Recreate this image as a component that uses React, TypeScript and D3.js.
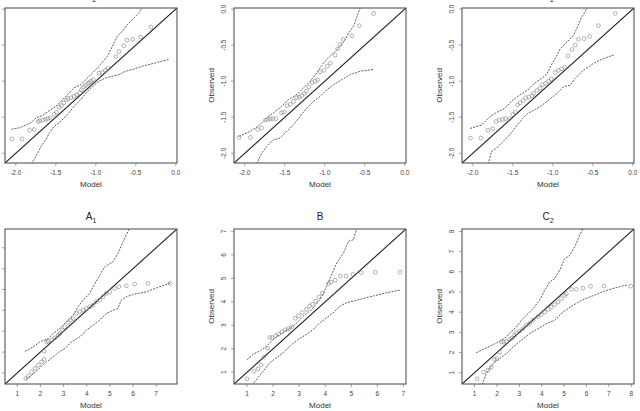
import * as d3 from "d3";

// Q-Q style panels: observed vs model quantiles with simulated envelopes.

const topTicks = [-2.0, -1.5, -1.0, -0.5, 0.0];
const bTicks7 = [1, 2, 3, 4, 5, 6, 7];
const bTicks8 = [1, 2, 3, 4, 5, 6, 7, 8];

// ---- top row, panel 1 ----
const a2Model = [-2.05, -1.92, -1.83, -1.77, -1.72, -1.7, -1.66, -1.63, -1.6, -1.57, -1.52, -1.49, -1.46, -1.43, -1.4, -1.37, -1.35, -1.31, -1.27, -1.24, -1.2, -1.18, -1.15, -1.13, -1.1, -1.08, -1.06, -1.03, -0.96, -0.92, -0.88, -0.85, -0.75, -0.71, -0.65, -0.61, -0.54, -0.44, -0.31];
const a2Observed = [-1.8, -1.8, -1.68, -1.67, -1.56, -1.55, -1.54, -1.53, -1.52, -1.51, -1.46, -1.43, -1.36, -1.34, -1.3, -1.26, -1.24, -1.23, -1.21, -1.19, -1.16, -1.12, -1.08, -1.06, -1.03, -1.02, -1.0, -0.98, -0.89, -0.88, -0.85, -0.82, -0.66, -0.59, -0.51, -0.43, -0.42, -0.39, -0.25];
const a2Upper: [number, number][] = [[-2.054, -1.668], [-1.95, -1.645], [-1.806, -1.576], [-1.744, -1.507], [-1.682, -1.484], [-1.496, -1.346], [-1.372, -1.207], [-1.269, -1.092], [-1.186, -1.046], [-1.083, -0.931], [-0.959, -0.793], [-0.855, -0.654], [-0.793, -0.516], [-0.731, -0.378], [-0.669, -0.309], [-0.607, -0.217], [-0.545, -0.147], [-0.463, -0.055], [-0.413, 0.03]];
const a2Lower: [number, number][] = [[-1.806, -2.15], [-1.723, -1.991], [-1.682, -1.899], [-1.62, -1.806], [-1.579, -1.714], [-1.517, -1.622], [-1.455, -1.576], [-1.372, -1.484], [-1.269, -1.346], [-1.186, -1.253], [-1.083, -1.115], [-0.959, -1.0], [-0.876, -0.954], [-0.793, -0.931], [-0.711, -0.908], [-0.628, -0.862], [-0.545, -0.839], [-0.421, -0.793], [-0.256, -0.747], [-0.091, -0.7]];

// ---- top row, panel 2 ----
const bTopModel = [-2.07, -1.93, -1.84, -1.79, -1.74, -1.71, -1.68, -1.65, -1.61, -1.54, -1.51, -1.47, -1.43, -1.39, -1.35, -1.32, -1.29, -1.26, -1.23, -1.2, -1.16, -1.12, -1.09, -1.06, -1.01, -0.97, -0.93, -0.87, -0.84, -0.81, -0.77, -0.66, -0.57, -0.39];
const bTopObserved = [-1.78, -1.78, -1.67, -1.65, -1.54, -1.53, -1.52, -1.52, -1.52, -1.44, -1.43, -1.34, -1.32, -1.28, -1.23, -1.22, -1.2, -1.17, -1.14, -1.08, -1.02, -1.0, -0.98, -0.87, -0.85, -0.79, -0.75, -0.64, -0.55, -0.49, -0.42, -0.37, -0.23, -0.06];
const bTopUpper: [number, number][] = [[-2.071, -1.767], [-1.937, -1.698], [-1.811, -1.605], [-1.706, -1.488], [-1.644, -1.442], [-1.539, -1.349], [-1.455, -1.256], [-1.35, -1.186], [-1.266, -1.093], [-1.182, -1.0], [-1.099, -0.884], [-1.015, -0.744], [-0.952, -0.674], [-0.889, -0.605], [-0.805, -0.512], [-0.742, -0.419], [-0.7, -0.326], [-0.637, -0.233], [-0.595, -0.093], [-0.553, 0.03]];
const bTopLower: [number, number][] = [[-1.853, -2.15], [-1.79, -2.0], [-1.727, -1.907], [-1.644, -1.814], [-1.56, -1.791], [-1.497, -1.721], [-1.392, -1.605], [-1.308, -1.488], [-1.224, -1.372], [-1.14, -1.279], [-1.057, -1.209], [-0.973, -1.116], [-0.889, -1.047], [-0.784, -0.977], [-0.679, -0.907], [-0.553, -0.86], [-0.386, -0.837]];

// ---- top row, panel 3 ----
const c1Model = [-2.03, -1.9, -1.81, -1.75, -1.71, -1.67, -1.63, -1.59, -1.54, -1.5, -1.47, -1.44, -1.41, -1.37, -1.34, -1.3, -1.26, -1.24, -1.2, -1.16, -1.13, -1.09, -1.05, -1.02, -0.97, -0.93, -0.89, -0.85, -0.81, -0.76, -0.72, -0.68, -0.61, -0.54, -0.43, -0.22];
const c1Observed = [-1.79, -1.79, -1.68, -1.66, -1.56, -1.54, -1.53, -1.52, -1.52, -1.46, -1.43, -1.33, -1.3, -1.27, -1.23, -1.22, -1.2, -1.17, -1.13, -1.1, -1.05, -1.03, -1.0, -0.97, -0.88, -0.85, -0.83, -0.81, -0.65, -0.56, -0.5, -0.42, -0.41, -0.38, -0.23, -0.06];
const c1Upper: [number, number][] = [[-2.033, -1.655], [-1.89, -1.609], [-1.787, -1.494], [-1.726, -1.448], [-1.603, -1.379], [-1.501, -1.264], [-1.419, -1.195], [-1.317, -1.126], [-1.235, -1.034], [-1.133, -0.956], [-1.072, -0.897], [-1.01, -0.759], [-0.949, -0.644], [-0.908, -0.552], [-0.826, -0.46], [-0.744, -0.368], [-0.683, -0.23], [-0.642, -0.115], [-0.601, -0.046], [-0.569, 0.03]];
const c1Lower: [number, number][] = [[-1.808, -2.15], [-1.767, -1.977], [-1.706, -1.931], [-1.624, -1.839], [-1.542, -1.747], [-1.46, -1.632], [-1.378, -1.517], [-1.317, -1.448], [-1.235, -1.402], [-1.133, -1.333], [-1.031, -1.241], [-0.949, -1.172], [-0.867, -1.08], [-0.785, -1.057], [-0.724, -0.966], [-0.622, -0.851], [-0.499, -0.759], [-0.376, -0.69], [-0.233, -0.634]];

// ---- bottom row, A1 ----
const a1Model = [1.37, 1.48, 1.62, 1.76, 1.91, 2.05, 2.16, 2.16, 2.26, 2.34, 2.48, 2.62, 2.77, 2.84, 2.95, 3.05, 3.2, 3.3, 3.41, 3.56, 3.7, 3.84, 3.99, 4.13, 4.27, 4.41, 4.56, 4.7, 4.84, 4.99, 5.21, 5.39, 5.71, 6.07, 6.64, 7.6];
const a1Observed = [0.73, 0.86, 1.05, 1.21, 1.37, 1.53, 1.65, 2.04, 2.49, 2.52, 2.57, 2.68, 2.81, 2.89, 3.05, 3.21, 3.42, 3.53, 3.61, 3.85, 3.93, 4.01, 4.09, 4.17, 4.25, 4.41, 4.49, 4.65, 4.81, 4.89, 5.05, 5.13, 5.18, 5.26, 5.29, 5.29];
const a1Upper: [number, number][] = [[1.33, 2.04], [1.689, 2.248], [1.976, 2.488], [2.335, 2.648], [2.55, 2.888], [2.837, 3.128], [3.124, 3.448], [3.411, 3.768], [3.627, 4.168], [3.842, 4.488], [4.129, 4.808], [4.273, 5.128], [4.56, 5.688], [4.775, 6.088], [5.134, 6.328], [5.349, 6.728], [5.564, 7.288], [5.708, 7.608], [5.852, 7.95]];
const a1Lower: [number, number][] = [[1.373, 0.696], [1.617, 0.888], [1.832, 1.08], [2.048, 1.336], [2.263, 1.528], [2.55, 1.768], [2.765, 1.976], [3.053, 2.168], [3.34, 2.488], [3.698, 2.728], [3.986, 3.048], [4.273, 3.288], [4.56, 3.528], [4.847, 3.848], [5.134, 4.008], [5.349, 4.088], [5.493, 4.488], [5.708, 4.648], [5.995, 4.76], [6.569, 4.888], [7.143, 5.128], [7.646, 5.32]];

// ---- bottom row, B ----
const bModel = [1.0, 1.26, 1.42, 1.54, 1.64, 1.79, 1.87, 1.96, 2.09, 2.21, 2.34, 2.47, 2.6, 2.72, 2.85, 2.98, 3.12, 3.28, 3.4, 3.51, 3.63, 3.76, 3.89, 4.13, 4.22, 4.38, 4.58, 4.8, 5.06, 5.38, 5.92, 6.87];
const bObserved = [0.72, 1.04, 1.14, 1.31, 1.64, 2.02, 2.48, 2.48, 2.55, 2.62, 2.72, 2.81, 2.86, 2.94, 3.3, 3.4, 3.54, 3.68, 3.82, 3.89, 4.03, 4.21, 4.37, 4.78, 4.84, 4.92, 5.09, 5.09, 5.17, 5.24, 5.26, 5.26];
const bUpper: [number, number][] = [[1.0, 1.537], [1.255, 1.776], [1.511, 1.918], [1.766, 2.129], [2.021, 2.412], [2.277, 2.624], [2.596, 2.835], [2.851, 3.047], [3.17, 3.4], [3.489, 3.683], [3.809, 4.106], [4.0, 4.53], [4.192, 5.024], [4.447, 5.659], [4.702, 6.082], [4.894, 6.577], [5.085, 6.647], [5.213, 7.15]];
const bLower: [number, number][] = [[1.191, 0.45], [1.383, 0.718], [1.638, 1.071], [1.894, 1.424], [2.149, 1.635], [2.404, 1.847], [2.66, 2.129], [2.979, 2.412], [3.298, 2.624], [3.553, 2.835], [3.809, 3.118], [4.064, 3.329], [4.319, 3.541], [4.575, 3.824], [4.83, 3.965], [5.341, 4.106], [5.851, 4.247], [6.362, 4.388], [6.872, 4.501]];

// ---- bottom row, C2 ----
const c2Model = [1.12, 1.4, 1.6, 1.75, 1.89, 2.0, 2.12, 2.19, 2.3, 2.42, 2.57, 2.68, 2.79, 2.86, 3.01, 3.16, 3.31, 3.46, 3.61, 3.83, 3.98, 4.13, 4.28, 4.43, 4.58, 4.73, 4.88, 5.03, 5.1, 5.32, 5.54, 5.84, 6.18, 6.78, 7.97];
const c2Observed = [0.7, 1.03, 1.12, 1.28, 1.66, 1.69, 2.02, 2.52, 2.52, 2.55, 2.65, 2.72, 2.85, 2.98, 3.05, 3.18, 3.35, 3.44, 3.6, 3.77, 3.88, 4.01, 4.14, 4.25, 4.37, 4.5, 4.67, 4.83, 4.91, 5.13, 5.13, 5.19, 5.28, 5.29, 5.29];
const c2Upper: [number, number][] = [[1.074, 1.991], [1.447, 2.189], [1.819, 2.387], [2.117, 2.552], [2.415, 2.767], [2.638, 3.047], [2.862, 3.262], [3.085, 3.592], [3.309, 3.84], [3.606, 4.17], [3.904, 4.583], [4.128, 5.078], [4.351, 5.491], [4.575, 5.656], [4.798, 6.069], [5.022, 6.646], [5.245, 6.811], [5.468, 7.224], [5.692, 7.802], [5.841, 8.15]];
const c2Lower: [number, number][] = [[1.343, 0.406], [1.521, 0.95], [1.819, 1.446], [2.117, 1.693], [2.415, 1.941], [2.713, 2.271], [3.085, 2.601], [3.457, 2.932], [3.83, 3.179], [4.202, 3.427], [4.575, 3.592], [4.947, 4.005], [5.394, 4.335], [5.766, 4.583], [6.138, 4.748], [6.51, 4.913], [6.883, 5.078], [7.255, 5.193], [7.851, 5.359]];

const titleMain = ["A", "B", "C", "A", "B", "C"];
const titleSub = ["2", "", "1", "1", "", "2"];

const boxLeft = [5, 234, 462];
const boxTop = [8, 229];
const boxW = 172;
const boxH = 155;

type Panel = {
  model: number[];
  observed: number[];
  upper: [number, number][];
  lower: [number, number][];
  domain: [number, number];
  ticks: number[];
  fmt: (v: number) => string;
};

const fmt1 = (v: number) => v.toFixed(1);
const fmt0 = (v: number) => String(v);

const panels: Panel[] = [
  { model: a2Model, observed: a2Observed, upper: a2Upper, lower: a2Lower, domain: [-2.135, 0.015], ticks: topTicks, fmt: fmt1 },
  { model: bTopModel, observed: bTopObserved, upper: bTopUpper, lower: bTopLower, domain: [-2.135, 0.015], ticks: topTicks, fmt: fmt1 },
  { model: c1Model, observed: c1Observed, upper: c1Upper, lower: c1Lower, domain: [-2.135, 0.015], ticks: topTicks, fmt: fmt1 },
  { model: a1Model, observed: a1Observed, upper: a1Upper, lower: a1Lower, domain: [0.47, 7.9], ticks: bTicks7, fmt: fmt0 },
  { model: bModel, observed: bObserved, upper: bUpper, lower: bLower, domain: [0.5, 7.1], ticks: bTicks7, fmt: fmt0 },
  { model: c2Model, observed: c2Observed, upper: c2Upper, lower: c2Lower, domain: [0.44, 8.12], ticks: bTicks8, fmt: fmt0 },
];

const font = "'Liberation Sans', Arial, Helvetica, sans-serif";

function QQPanel({ p, i }: { p: Panel; i: number }) {
  const left = boxLeft[i % 3];
  const top = boxTop[Math.floor(i / 3)];
  const x = d3.scaleLinear().domain(p.domain).range([left, left + boxW]);
  const y = d3.scaleLinear().domain(p.domain).range([top + boxH, top]);
  const line = d3.line<[number, number]>().x((d) => x(d[0])).y((d) => y(d[1]));
  const clipId = `qq-clip-${i}`;
  const bottom = top + boxH;
  const cx = left + boxW / 2;
  const cy = top + boxH / 2;
  // the first column sits against the page edge, so its y labels have no room
  const showYLabels = left > 20;

  return (
    <g>
      <defs>
        <clipPath id={clipId}>
          <rect x={left} y={top} width={boxW} height={boxH} />
        </clipPath>
      </defs>
      <g clipPath={`url(#${clipId})`}>
        <line
          x1={x(p.domain[0])}
          y1={y(p.domain[0])}
          x2={x(p.domain[1])}
          y2={y(p.domain[1])}
          stroke="#222"
          strokeWidth={1.1}
        />
        <path d={line(p.upper) ?? ""} fill="none" stroke="#333" strokeWidth={0.8} strokeDasharray="2,1.2" />
        <path d={line(p.lower) ?? ""} fill="none" stroke="#333" strokeWidth={0.8} strokeDasharray="2,1.2" />
        {p.model.map((m, k) => (
          <circle key={k} cx={x(m)} cy={y(p.observed[k])} r={1.9} fill="none" stroke="#808080" strokeWidth={0.6} />
        ))}
      </g>
      <rect x={left} y={top} width={boxW} height={boxH} fill="none" stroke="#444" strokeWidth={1} />

      {/* x axis */}
      {p.ticks.map((t) => (
        <g key={`x${t}`}>
          <line x1={x(t)} x2={x(t)} y1={bottom} y2={bottom + 3} stroke="#666" strokeWidth={0.6} />
          <text x={x(t)} y={bottom + 12} fontSize={6.5} textAnchor="middle" fill="#444">
            {p.fmt(t)}
          </text>
        </g>
      ))}
      <text x={cx} y={bottom + 24} fontSize={8} textAnchor="middle" fill="#333">
        Model
      </text>

      {/* y axis */}
      {p.ticks.map((t) => (
        <g key={`y${t}`}>
          <line x1={left - 3} x2={left} y1={y(t)} y2={y(t)} stroke="#666" strokeWidth={0.6} />
          {showYLabels && (
            <text
              transform={`translate(${left - 8},${y(t)}) rotate(-90)`}
              fontSize={6.5}
              textAnchor="middle"
              fill="#444"
            >
              {p.fmt(t)}
            </text>
          )}
        </g>
      ))}
      {showYLabels && (
        <text transform={`translate(${left - 20},${cy}) rotate(-90)`} fontSize={8} textAnchor="middle" fill="#333">
          Observed
        </text>
      )}

      <text x={cx} y={top - 9} fontSize={10} textAnchor="middle" fill="#222">
        {titleMain[i]}
        {titleSub[i] && (
          <tspan fontSize={7} dy={2.5}>
            {titleSub[i]}
          </tspan>
        )}
      </text>
    </g>
  );
}

export default function App() {
  return (
    <div style={{ position: "absolute", left: 0, top: 0 }}>
      <svg width={640} height={411} style={{ display: "block", background: "#fff", fontFamily: font }}>
        <rect width={640} height={411} fill="#fff" />
        {panels.map((p, i) => (
          <QQPanel key={i} p={p} i={i} />
        ))}
      </svg>
    </div>
  );
}
